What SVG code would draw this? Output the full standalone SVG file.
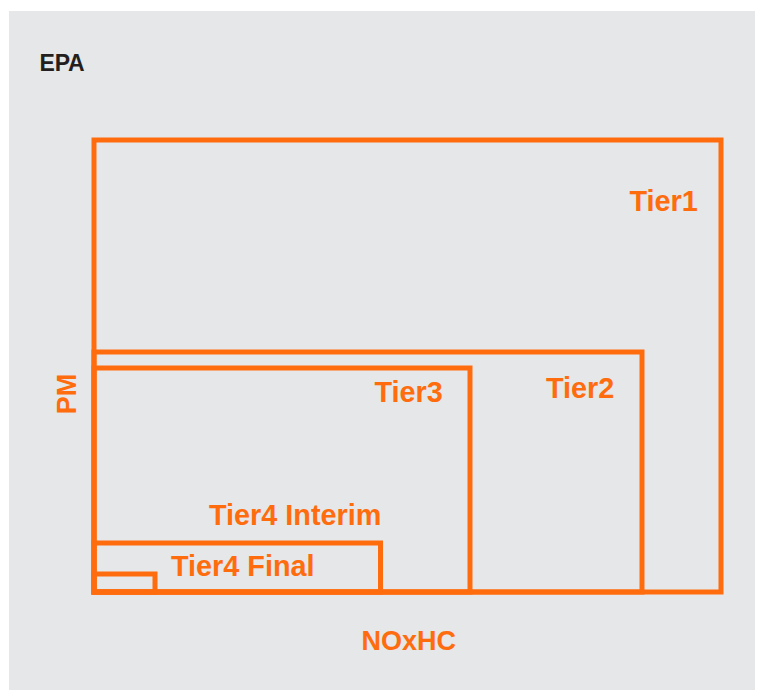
<svg xmlns="http://www.w3.org/2000/svg" width="758" height="690" viewBox="0 0 758 690">
<style>
.box{fill:none;stroke:#ff6c0e;stroke-width:5}
.lbl{font-family:"Liberation Sans",Arial,sans-serif;font-weight:bold;fill:#ff6c0e;font-size:28.8px}
.ax{font-family:"Liberation Sans",Arial,sans-serif;font-weight:bold;fill:#ff6c0e;font-size:27px}
</style>
<rect x="0" y="0" width="758" height="690" fill="#ffffff"/>
<rect x="9" y="11" width="746" height="679" fill="#e6e7e8"/>
<text x="39.5" y="71" font-family="'Liberation Sans',Arial,sans-serif" font-weight="bold" font-size="23" letter-spacing="-0.2" fill="#231f20">EPA</text>
<g id="tier1">
<rect class="box" x="94" y="140" width="627" height="452"/>
<text class="lbl" x="629.5" y="211">Tier1</text>
</g>
<g id="tier2">
<rect class="box" x="94" y="352" width="548" height="240"/>
<text class="lbl" x="546" y="398">Tier2</text>
</g>
<g id="tier3">
<rect class="box" x="94" y="368" width="376" height="224"/>
<text class="lbl" x="374.5" y="402">Tier3</text>
</g>
<g id="tier4-interim">
<rect class="box" x="94" y="543" width="286.5" height="49"/>
<text class="lbl" x="209" y="525">Tier4 Interim</text>
</g>
<g id="tier4-final">
<rect class="box" x="94" y="574" width="61" height="18"/>
<text class="lbl" x="171" y="576">Tier4 Final</text>
</g>
<g id="axes">
<text class="ax" x="361.5" y="650">NOxHC</text>
<text class="ax" text-anchor="middle" transform="translate(75.5,394) rotate(-90)">PM</text>
</g>
</svg>
